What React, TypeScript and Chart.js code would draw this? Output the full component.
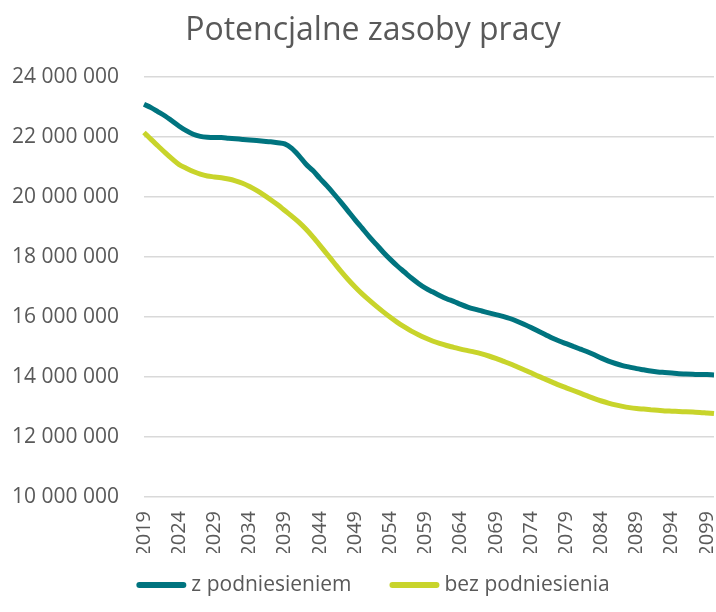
import React, { useEffect, useRef } from "react";
import { Chart, registerables } from "chart.js";

Chart.register(...registerables);

const years: string[] = [];
for (let y = 2019; y <= 2100; y++) years.push(String(y));

const zPodniesieniem = [
  23.09, 22.98, 22.84, 22.7, 22.53, 22.36, 22.21, 22.09, 22.02, 21.99,
  21.98, 21.98, 21.96, 21.94, 21.92, 21.9, 21.88, 21.86, 21.84, 21.81,
  21.77, 21.62, 21.38, 21.1, 20.88, 20.62, 20.37, 20.1, 19.82, 19.53,
  19.24, 18.96, 18.68, 18.42, 18.16, 17.92, 17.7, 17.5, 17.3, 17.12,
  16.96, 16.84, 16.72, 16.61, 16.52, 16.42, 16.33, 16.26, 16.2, 16.14,
  16.08, 16.02, 15.95, 15.86, 15.76, 15.65, 15.53, 15.42, 15.3, 15.2,
  15.11, 15.02, 14.93, 14.84, 14.74, 14.63, 14.53, 14.45, 14.38, 14.33,
  14.28, 14.24, 14.2, 14.17, 14.15, 14.13, 14.11, 14.1, 14.09, 14.08,
  14.08, 14.07,
];

const bezPodniesienia = [
  22.15, 21.92, 21.7, 21.48, 21.27, 21.08, 20.96, 20.85, 20.76, 20.7,
  20.67, 20.64, 20.6, 20.54, 20.46, 20.35, 20.22, 20.07, 19.91, 19.74,
  19.55, 19.36, 19.16, 18.93, 18.67, 18.39, 18.1, 17.81, 17.52, 17.25,
  17.0, 16.77, 16.56, 16.36, 16.17, 15.99, 15.82, 15.67, 15.53, 15.41,
  15.3, 15.2, 15.12, 15.05, 14.99, 14.93, 14.88, 14.83, 14.77, 14.7,
  14.62, 14.53, 14.44, 14.34, 14.24, 14.14, 14.03, 13.93, 13.83, 13.73,
  13.64, 13.55, 13.46, 13.37, 13.28, 13.2, 13.13, 13.07, 13.02, 12.98,
  12.95, 12.93, 12.91, 12.89, 12.87, 12.86, 12.85, 12.84, 12.83, 12.82,
  12.8, 12.78,
];

const seriesNames = ["z podniesieniem", "bez podniesienia"];
const seriesColors = ["#00747F", "#C8D42B"];
const titleText = "Potencjalne zasoby pracy";

const FONT = "'Open Sans', 'Noto Sans', sans-serif";
const TEXT = "#595959";

function fmt(v: number): string {
  const s = Math.round(v * 1000000).toString();
  return s.replace(/\B(?=(\d{3})+(?!\d))/g, " ");
}

// Title and legend drawn centred on the original (uncropped) chart centre.
const titleLegendPlugin = {
  id: "titleLegend",
  afterDraw(chart: any) {
    const ctx = chart.ctx as CanvasRenderingContext2D;
    const cx = 373;
    ctx.save();
    ctx.fillStyle = TEXT;
    ctx.textBaseline = "middle";
    ctx.textAlign = "center";
    ctx.font = `32px ${FONT}`;
    ctx.fillText(titleText, cx, 31);

    ctx.font = `21px ${FONT}`;
    ctx.textAlign = "left";
    const lineW = 50;
    const gap = 5;
    const itemGap = 38;
    const widths = seriesNames.map((n) => ctx.measureText(n).width);
    const total = widths.reduce((a, w) => a + lineW + gap + w, 0) + itemGap * (seriesNames.length - 1);
    let x = cx - total / 2;
    const y = 585;
    seriesNames.forEach((name, i) => {
      ctx.strokeStyle = seriesColors[i];
      ctx.lineWidth = 6;
      ctx.lineCap = "round";
      ctx.beginPath();
      ctx.moveTo(x + 3, y);
      ctx.lineTo(x + lineW - 3, y);
      ctx.stroke();
      ctx.fillStyle = TEXT;
      ctx.fillText(name, x + lineW + gap, y);
      x += lineW + gap + widths[i] + itemGap;
    });
    ctx.restore();
  },
};

export default function App() {
  const ref = useRef<HTMLCanvasElement | null>(null);
  useEffect(() => {
    if (!ref.current) return;
    const chart = new Chart(ref.current, {
      type: "line",
      data: {
        labels: years,
        datasets: [
          {
            label: seriesNames[0],
            data: zPodniesieniem,
            borderColor: seriesColors[0],
            backgroundColor: seriesColors[0],
            borderWidth: 5,
            pointRadius: 0,
            cubicInterpolationMode: "monotone",
          },
          {
            label: seriesNames[1],
            data: bezPodniesienia,
            borderColor: seriesColors[1],
            backgroundColor: seriesColors[1],
            borderWidth: 5,
            pointRadius: 0,
            cubicInterpolationMode: "monotone",
          },
        ],
      },
      options: {
        responsive: false,
        animation: false,
        devicePixelRatio: 1,
        layout: { padding: { left: 0, right: 2, top: 77, bottom: 59 } },
        plugins: {
          title: { display: false },
          legend: { display: false },
          tooltip: { enabled: false },
        },
        scales: {
          x: {
            grid: { display: false },
            border: { display: false },
            ticks: {
              autoSkip: false,
              minRotation: 90,
              maxRotation: 90,
              padding: 6,
              color: TEXT,
              font: { family: FONT, size: 20 },
              callback: (_v: any, i: number) => (i % 5 === 0 ? years[i] : null),
            },
            afterFit: (s: any) => {
              s.paddingLeft = 0;
              s.paddingRight = 0;
              s.height = 56;
            },
          },
          y: {
            min: 10,
            max: 24,
            grid: { color: "#D9D9D9", lineWidth: 1.5, drawTicks: false },
            border: { display: false },
            ticks: {
              stepSize: 2,
              color: TEXT,
              padding: 25,
              font: { family: FONT, size: 21 },
              callback: (v: any) => fmt(Number(v)),
            },
            afterFit: (s: any) => {
              s.width = 144;
            },
          },
        },
      },
      plugins: [titleLegendPlugin],
    });
    return () => chart.destroy();
  }, []);
  return (
    <div style={{ position: "absolute", left: 0, top: 0, width: 716, height: 612, background: "#fff" }}>
      <canvas ref={ref} width={716} height={612} />
    </div>
  );
}
